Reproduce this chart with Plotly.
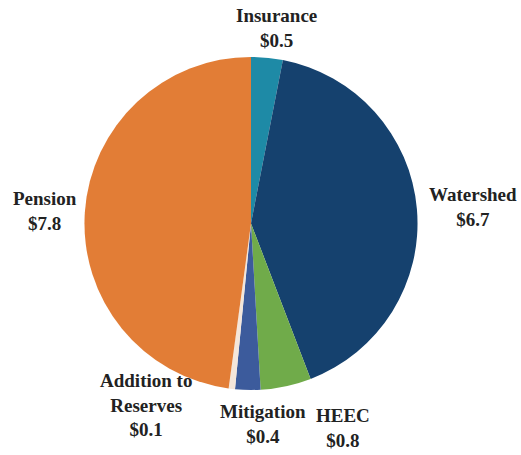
import plotly.graph_objects as go

categories = ["Insurance", "Watershed", "HEEC", "Mitigation", "Addition to<br>Reserves", "Pension"]
values = [0.5, 6.7, 0.8, 0.4, 0.1, 7.8]
colors = ["#1E8AA6", "#15416E", "#70AB4A", "#3C5B9C", "#F4E6DA", "#E27D36"]

# label anchor positions (paper coords) for each category
label_x = [0.530, 0.908, 0.658, 0.505, 0.280, 0.086]
label_y = [0.938, 0.545, 0.059, 0.068, 0.11, 0.536]

fig = go.Figure(go.Pie(
    labels=categories,
    values=values,
    sort=False,
    direction="clockwise",
    rotation=0,
    marker=dict(colors=colors, line=dict(width=0)),
    textinfo="none",
    hoverinfo="label+value",
    domain=dict(x=[83/521, 419/521], y=[0.143, 0.875]),
    showlegend=False,
))

for c, v, x, y in zip(categories, values, label_x, label_y):
    fig.add_annotation(
        x=x, y=y, xref="paper", yref="paper",
        xanchor="center", yanchor="middle",
        text=f"<b>{c}<br>${v}</b>",
        showarrow=False, align="center",
        font=dict(family="Liberation Serif", size=19, color="#222222"),
    )

fig.update_layout(
    width=521, height=455,
    margin=dict(l=0, r=0, t=0, b=0),
    paper_bgcolor="white", plot_bgcolor="white",
)
fig.write_html("out.html", config={"displayModeBar": False},
               post_script="document.body.style.margin='0';")
